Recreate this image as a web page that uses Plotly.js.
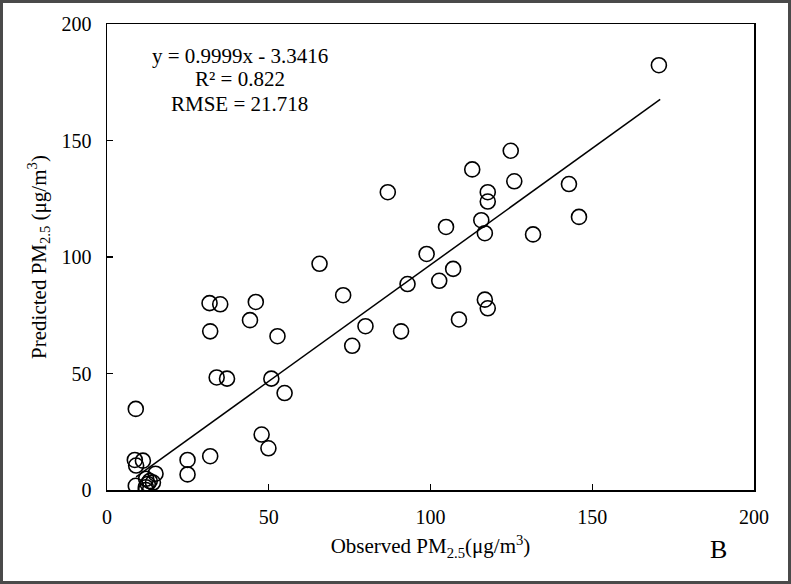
<!DOCTYPE html>
<html>
<head>
<meta charset="utf-8">
<script src="https://cdn.plot.ly/plotly-3.0.1.min.js"></script>
<style>
html,body{margin:0;padding:0;background:#fff;}
#wrap{position:relative;width:791px;height:584px;}
#chart{width:791px;height:584px;}
#frame{position:absolute;left:0;top:0;width:791px;height:584px;box-sizing:border-box;border:3px solid #4a4a4a;pointer-events:none;}
</style>
</head>
<body>
<div id="wrap"><div id="chart"></div><div id="frame"></div></div>
<script>
// Observed vs predicted PM2.5 (µg/m3)
const observed = [170.6,124.8,112.9,125.9,142.8,117.7,86.8,117.7,115.7,145.9,104.8,116.8,131.7,98.8,65.7,107.0,92.9,102.7,73.0,46.0,31.7,35.0,116.8,117.7,44.2,108.8,79.9,31.9,90.9,52.7,75.8,33.9,37.1,50.8,54.9,8.9,47.8,49.9,31.9,24.9,24.9,8.6,9.0,11.1,15.0,8.9,12.0,12.0,12.6,13.2,14.2,12.1];
const predicted = [182.3,145.6,137.6,132.5,131.3,127.8,127.8,123.8,115.8,117.2,112.9,110.2,109.7,101.3,97.1,94.9,88.4,89.8,83.6,80.7,80.2,79.7,81.7,78.0,72.9,73.2,70.3,68.1,68.1,66.0,61.9,48.3,47.8,47.8,41.6,34.8,23.8,17.9,14.5,12.9,6.7,12.9,10.5,12.6,7.0,1.8,0.0,1.2,2.6,3.8,3.2,4.8];
const slope = 0.9999, intercept = -3.3416;
const fitX = [9, 171];
const fitY = fitX.map(x => slope * x + intercept);
const statLines = ['y = 0.9999x - 3.3416', 'R² = 0.822', 'RMSE = 21.718'];
const statY = [0.9315, 0.881, 0.8276];
const tickVals = [0, 50, 100, 150, 200];

const serif = 'Liberation Serif';
const traces = [
  {x: fitX, y: fitY, mode: 'lines', line: {color: '#000', width: 1.5}, hoverinfo: 'skip', showlegend: false},
  {x: observed, y: predicted, mode: 'markers', showlegend: false,
   marker: {symbol: 'circle-open', size: 15, color: '#000', line: {width: 1.6, color: '#000'}}}
];
const axisBase = {
  range: [0, 200], tickvals: tickVals, ticks: 'inside', ticklen: 6, tickwidth: 1.3, tickcolor: '#000',
  showline: true, linecolor: '#000', linewidth: 1.5, mirror: true, showgrid: false, zeroline: false,
  tickfont: {family: serif, size: 20, color: '#000'}
};
const annotations = statLines.map((t, i) => ({
  xref: 'paper', yref: 'paper', x: 0.205, y: statY[i], xanchor: 'center', yanchor: 'middle', showarrow: false,
  text: t, font: {family: serif, size: 21, color: '#000'}
}));
annotations.push({xref: 'paper', yref: 'paper', x: 0.945, y: -0.128, xanchor: 'center', yanchor: 'middle', showarrow: false,
  text: 'B', font: {family: serif, size: 26, color: '#000'}});
const layout = {
  width: 791, height: 584,
  margin: {l: 107, r: 37, t: 24, b: 94},
  paper_bgcolor: '#fff', plot_bgcolor: '#fff',
  font: {family: serif, color: '#000'},
  xaxis: Object.assign({}, axisBase, {ticklabelstandoff: 8,
    title: {text: 'Observed PM<sub>2.5</sub>(μg/m<sup>3</sup>)', font: {family: serif, size: 21, color: '#000'}, standoff: 12}}),
  yaxis: Object.assign({}, axisBase, {ticklabelstandoff: 10,
    title: {text: 'Predicted PM<sub>2.5</sub> (μg/m<sup>3</sup>)', font: {family: serif, size: 21, color: '#000'}, standoff: 9}}),
  annotations: annotations
};
Plotly.newPlot('chart', traces, layout, {displayModeBar: false, staticPlot: true});
</script>
</body>
</html>
